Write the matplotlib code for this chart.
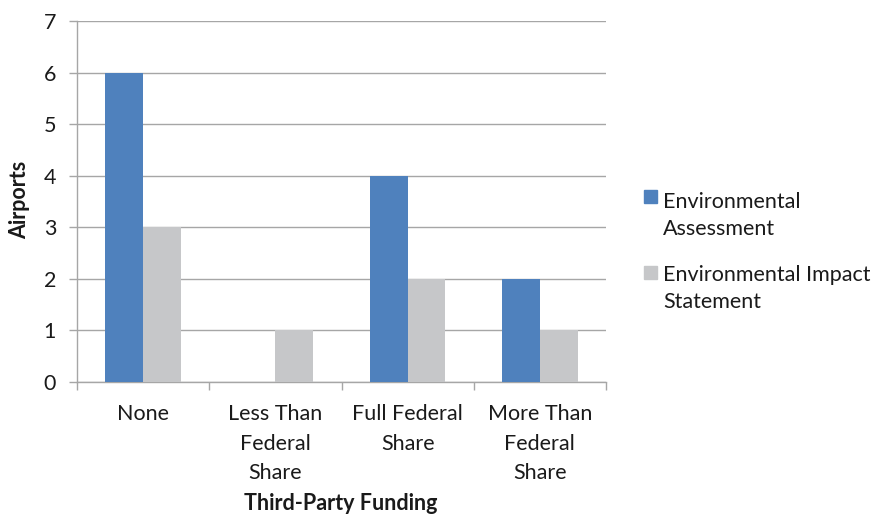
import matplotlib
matplotlib.use("Agg")
import matplotlib.pyplot as plt
from matplotlib.patches import Rectangle
import numpy as np

categories = ["None", "Less Than\nFederal\nShare", "Full Federal\nShare", "More Than\nFederal\nShare"]
env_assessment = [6, 0, 4, 2]
env_impact = [3, 1, 2, 1]
series_names = ["Environmental\nAssessment", "Environmental Impact\nStatement"]
y_ticks = [0, 1, 2, 3, 4, 5, 6, 7]

plt.rcParams["font.family"] = ["Lato", "DejaVu Sans"]

W, H = 881, 514
FS = 15.5
fig = plt.figure(figsize=(W / 100, H / 100), dpi=100)
ax = fig.add_axes([77 / W, (H - 382) / H, 529 / W, (382 - 21) / H])

blue = "#4F81BD"
gray = "#C6C7C9"
grid_c = "#A6A6A6"
txt_c = "#1a1a1a"

x = np.arange(len(categories))
bw = 1 / 3.5
ax.bar(x - bw / 2, env_assessment, width=bw, color=blue, zorder=3)
ax.bar(x + bw / 2, env_impact, width=bw, color=gray, zorder=3)

ax.set_xlim(-0.5, len(categories) - 0.5)
ax.set_ylim(0, 7)
ax.set_yticks(y_ticks)
ax.yaxis.grid(True, color=grid_c, linewidth=1, zorder=0)

ax.set_xticks(x)
ax.set_xticklabels(categories, fontsize=FS, color=txt_c, linespacing=1.58, va="top")
ax.set_xticks(np.arange(-0.5, len(categories)), minor=True)
ax.tick_params(axis="x", which="major", length=0, pad=16)
ax.tick_params(axis="x", which="minor", length=6, color=grid_c, width=1, direction="out")
ax.tick_params(axis="y", length=6, color=grid_c, width=1, pad=9, labelsize=FS, labelcolor=txt_c)

for s in ["top", "right"]:
    ax.spines[s].set_visible(False)
for s in ["left", "bottom"]:
    ax.spines[s].set_color(grid_c)
    ax.spines[s].set_linewidth(1)

fig.text(20 / W, 1 - 200 / H, "Airports", fontsize=FS, fontweight="bold",
         rotation=90, ha="center", va="center", color=txt_c)
fig.text(341 / W, 1 - 503 / H, "Third-Party Funding", fontsize=FS, fontweight="bold",
         ha="center", va="center", color=txt_c)

# Legend drawn by hand: square aligned with the first line of each entry
leg_colors = [blue, gray]
leg_top = [190, 266]
leg_text_top = [192, 265]
for name, c, top, ttop in zip(series_names, leg_colors, leg_top, leg_text_top):
    fig.patches.append(Rectangle((644 / W, 1 - (top + 13) / H), 13 / W, 13 / H,
                                 transform=fig.transFigure, color=c, figure=fig))
    fig.text(663 / W, 1 - ttop / H, name, fontsize=FS, ha="left", va="top",
             linespacing=1.45, color=txt_c)

fig.savefig("out.png", dpi=100)
